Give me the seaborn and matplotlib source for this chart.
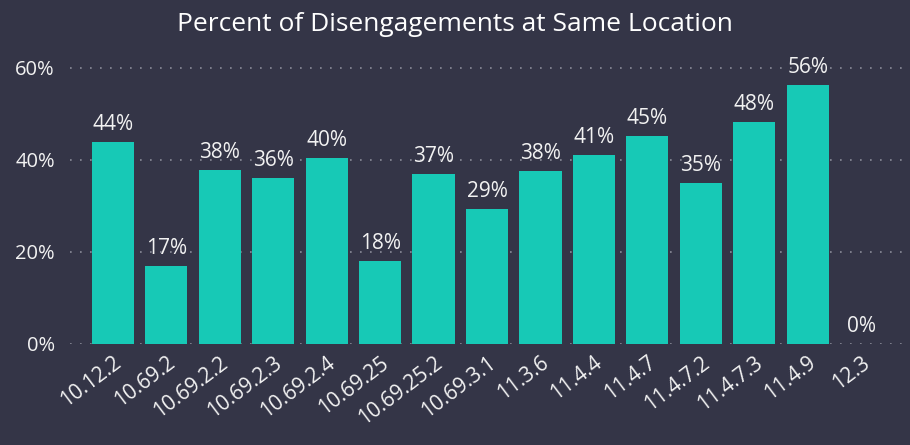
import matplotlib
matplotlib.use("Agg")
import matplotlib.pyplot as plt
import seaborn as sns
import pandas as pd

versions = ["10.12.2", "10.69.2", "10.69.2.2", "10.69.2.3", "10.69.2.4", "10.69.25",
            "10.69.25.2", "10.69.3.1", "11.3.6", "11.4.4", "11.4.7", "11.4.7.2",
            "11.4.7.3", "11.4.9", "12.3"]
pct_same_location = [0.440, 0.170, 0.378, 0.361, 0.404, 0.180, 0.370, 0.294,
                     0.376, 0.411, 0.452, 0.350, 0.483, 0.563, 0.0]
y_ticks = [0.0, 0.2, 0.4, 0.6]
title = "Percent of Disengagements at Same Location"

bg = "#343547"
bar_color = "#17C9B6"
text_color = "#F2F2F2"

sns.set_theme(style="dark")
plt.rcParams["font.family"] = ["Open Sans", "DejaVu Sans"]

df = pd.DataFrame({"version": versions, "pct": pct_same_location})

fig = plt.figure(figsize=(9.1, 4.45), dpi=100, facecolor=bg)
ax = fig.add_axes([0.077, 0.227, 0.918, 0.638])
ax.set_facecolor(bg)

sns.barplot(data=df, x="version", y="pct", color=bar_color, saturation=1,
            width=0.79, linewidth=0, edgecolor="none", ax=ax, zorder=3)

for i, v in enumerate(pct_same_location):
    ax.annotate(f"{v:.0%}", xy=(i, v), xytext=(0, 5), textcoords="offset points",
                ha="center", va="bottom", color=text_color, fontsize=15, zorder=4)

ax.set_xlim(-0.8, 14.83)
ax.set_ylim(0, 0.617)
ax.set_yticks(y_ticks)
ax.set_yticklabels([f"{t:.0%}" for t in y_ticks], color=text_color, fontsize=14.5)
ax.yaxis.grid(True, linestyle=(0, (1, 5)), color="#8A8C99", linewidth=1.2, zorder=0)
ax.xaxis.grid(False)
ax.tick_params(axis="y", length=0, pad=11)
ax.tick_params(axis="x", length=0, pad=6)
plt.setp(ax.get_xticklabels(), rotation=37, ha="right", va="top",
         rotation_mode="anchor", color=text_color, fontsize=15)
for s in ax.spines.values():
    s.set_visible(False)
ax.set_xlabel("")
ax.set_ylabel("")

fig.text(0.5, 0.945, title, ha="center", va="center", color="white", fontsize=19)

fig.savefig("out.png", dpi=100, facecolor=bg)
